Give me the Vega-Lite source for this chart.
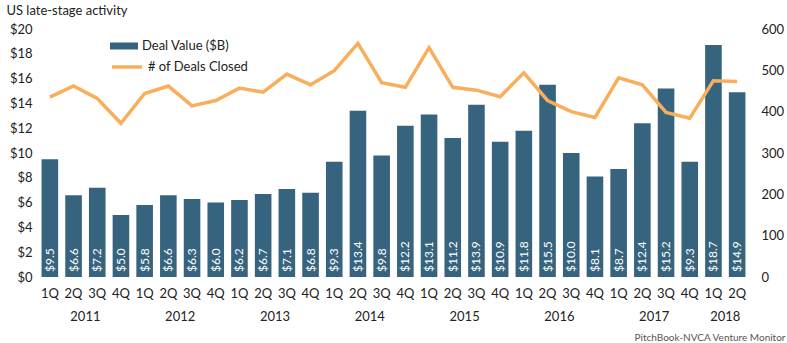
{
 "$schema": "https://vega.github.io/schema/vega-lite/v6.json",
 "width": 711, "height": 248,
 "autosize": {"type": "none"},
 "padding": {"left": 38, "top": 29, "right": 38, "bottom": 66},
 "background": "white",
 "config": {
  "font": "Lato",
  "view": {"stroke": null},
  "axis": {"labelFont": "Lato", "labelFontSize": 13, "labelColor": "#222222", "domain": false, "ticks": false, "grid": false, "labelOverlap": false},
  "legend": {"labelFont": "Lato", "labelFontSize": 13, "labelColor": "#222222"}
 },
 "title": {"text": "US late-stage activity", "anchor": "start", "frame": "bounds", "fontSize": 13, "fontWeight": "normal", "color": "#222222", "font": "Lato", "offset": 5, "dx": -3},
 "data": {"values": [
  {"period": "2011-1Q", "value": 9.5, "deals": 435},
  {"period": "2011-2Q", "value": 6.6, "deals": 462},
  {"period": "2011-3Q", "value": 7.2, "deals": 432},
  {"period": "2011-4Q", "value": 5.0, "deals": 372},
  {"period": "2012-1Q", "value": 5.8, "deals": 444},
  {"period": "2012-2Q", "value": 6.6, "deals": 462},
  {"period": "2012-3Q", "value": 6.3, "deals": 414},
  {"period": "2012-4Q", "value": 6.0, "deals": 427},
  {"period": "2013-1Q", "value": 6.2, "deals": 457},
  {"period": "2013-2Q", "value": 6.7, "deals": 447},
  {"period": "2013-3Q", "value": 7.1, "deals": 491},
  {"period": "2013-4Q", "value": 6.8, "deals": 465},
  {"period": "2014-1Q", "value": 9.3, "deals": 499},
  {"period": "2014-2Q", "value": 13.4, "deals": 565},
  {"period": "2014-3Q", "value": 9.8, "deals": 470},
  {"period": "2014-4Q", "value": 12.2, "deals": 459},
  {"period": "2015-1Q", "value": 13.1, "deals": 555},
  {"period": "2015-2Q", "value": 11.2, "deals": 459},
  {"period": "2015-3Q", "value": 13.9, "deals": 452},
  {"period": "2015-4Q", "value": 10.9, "deals": 436},
  {"period": "2016-1Q", "value": 11.8, "deals": 494},
  {"period": "2016-2Q", "value": 15.5, "deals": 427},
  {"period": "2016-3Q", "value": 10.0, "deals": 400},
  {"period": "2016-4Q", "value": 8.1, "deals": 386},
  {"period": "2017-1Q", "value": 8.7, "deals": 482},
  {"period": "2017-2Q", "value": 12.4, "deals": 465},
  {"period": "2017-3Q", "value": 15.2, "deals": 398},
  {"period": "2017-4Q", "value": 9.3, "deals": 384},
  {"period": "2018-1Q", "value": 18.7, "deals": 475},
  {"period": "2018-2Q", "value": 14.9, "deals": 473}
 ]},
 "layer": [
  {
   "layer": [
    {
     "mark": {"type": "bar"},
     "encoding": {
      "x": {"field": "period", "type": "ordinal", "sort": null,
            "scale": {"paddingInner": 0.3, "paddingOuter": 0.15},
            "axis": {"orient": "bottom", "labelExpr": "substring(datum.value, 5)", "labelAngle": 0, "title": null, "labelPadding": 10}},
      "y": {"field": "value", "type": "quantitative", "scale": {"domain": [0, 20]},
            "axis": {"values": [0, 2, 4, 6, 8, 10, 12, 14, 16, 18, 20], "labelExpr": "'$' + datum.value", "title": null, "labelPadding": 6, "labelOverlap": false}},
      "fill": {"datum": "Deal Value ($B)", "scale": {"range": ["#36637e"]},
               "legend": {"orient": "none", "legendX": 72, "legendY": 3, "title": null, "symbolType": "M-1,-0.25H1V0.25H-1Z", "symbolSize": 784, "symbolStrokeWidth": 0, "labelOffset": 4}}
     }
    },
    {
     "mark": {"type": "text", "angle": 270, "align": "left", "baseline": "middle", "dx": 5, "color": "white", "fontSize": 12, "font": "Lato"},
     "encoding": {
      "x": {"field": "period", "type": "ordinal", "sort": null},
      "y": {"datum": 0, "axis": {"values": [0, 2, 4, 6, 8, 10, 12, 14, 16, 18, 20], "labelExpr": "'$' + datum.value", "title": null, "labelPadding": 6, "labelOverlap": false}},
      "text": {"field": "value", "type": "quantitative", "format": "$.1f"}
     }
    }
   ]
  },
  {
   "mark": {"type": "line", "strokeWidth": 3.5},
   "encoding": {
    "x": {"field": "period", "type": "ordinal", "sort": null,
          "axis": {"orient": "bottom", "values": ["2011-2Q", "2012-2Q", "2013-2Q", "2014-2Q", "2015-2Q", "2016-2Q", "2017-2Q", "2018-1Q"],
                   "labelExpr": "substring(datum.value, 0, 4)", "labelOffset": 11.85, "labelPadding": 33, "labelFontSize": 13, "labelAngle": 0,
                   "title": "PitchBook-NVCA Venture Monitor", "titleFont": "Lato", "titleFontSize": 10, "titleFontWeight": "normal", "titleColor": "#555555",
                   "titleAnchor": "end", "titleAlign": "right", "titleX": 747, "titleY": 60, "titleBaseline": "middle"}},
    "y": {"field": "deals", "type": "quantitative", "scale": {"domain": [0, 600]},
          "axis": {"orient": "right", "values": [0, 100, 200, 300, 400, 500, 600], "title": null, "labelPadding": 12}},
    "stroke": {"datum": "# of Deals Closed", "scale": {"range": ["#f9ae5b"]},
               "legend": {"orient": "none", "legendX": 72, "legendY": 21, "title": null, "symbolType": "stroke", "symbolSize": 900, "symbolStrokeWidth": 3.5, "labelOffset": 4}}
   }
  }
 ],
 "resolve": {"scale": {"y": "independent"}, "axis": {"x": "independent"}}
}
